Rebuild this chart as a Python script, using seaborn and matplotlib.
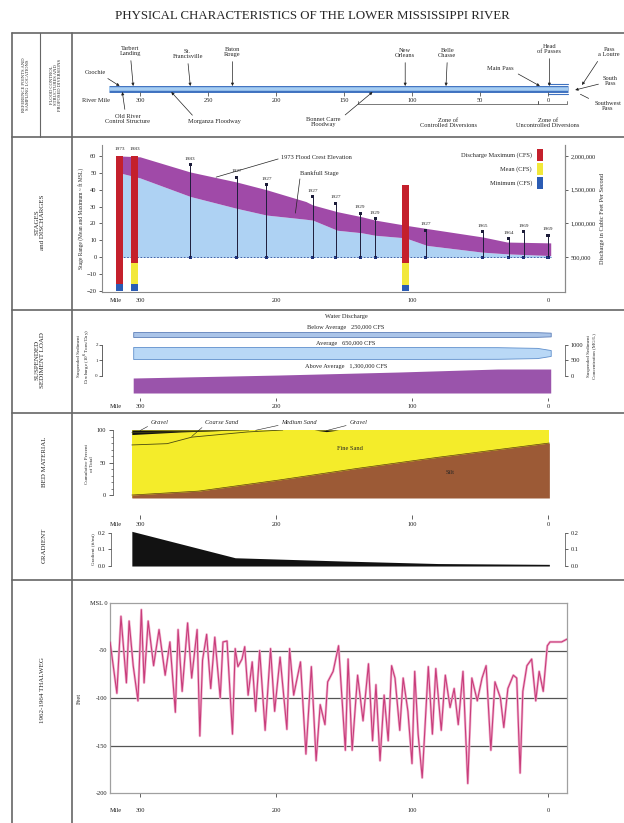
import matplotlib
matplotlib.use("Agg")
import matplotlib.pyplot as plt
from matplotlib.ticker import FuncFormatter
import seaborn as sns

sns.set_theme(style="white")
plt.rcParams["font.family"] = ["Liberation Serif", "DejaVu Serif"]
plt.rcParams["axes.facecolor"] = "none"

# --- DATA ---
# reference points / structures, river miles above Head of Passes
ref_names = ["Coochie", "Tarbert\nLanding", "St.\nFrancisville", "Baton\nRouge",
             "New\nOrleans", "Belle\nChasse", "Head\nof Passes"]
ref_miles = [315, 305, 263, 232, 105, 75, -1]
struct_names = ["Old River\nControl Structure", "Morganza Floodway", "Bonnet Carre\nFloodway"]
struct_miles = [313, 277, 129]
zone_names = ["Zone of\nControlled Diversions", "Zone of\nUncontrolled Diversions"]
zone_start = [140, 7]
zone_end = [7, -14]
river_miles = [323, -15]
mile_ticks = [300, 250, 200, 150, 100, 50, 0]

# stages (ft MSL)
crest_miles = [315, 300, 263, 229, 207, 178, 173, 155, 137, 127, 105, 89, 48, 30, -2]
crest_stage = [60, 59.5, 50.5, 44.6, 40, 33, 31, 27, 24, 22, 19, 17, 12, 9, 8.5]
bankfull_stage = [50, 47, 36, 29, 25, 22.5, 22, 16, 14.5, 13, 11.5, 7, 3, 2, 1]
gauge_miles = [263, 229, 207, 173, 156, 138, 127, 90, 48, 29, 18, 0]
gauge_max = [55, 47.5, 43, 36, 32, 26, 23, 16, 15, 11, 15, 13]
gauge_year = ["1983", "1927", "1927", "1927", "1927", "1929", "1929", "1927",
              "1965", "1964", "1969", "1969"]

# discharges (cfs)
q_miles = [315, 304, 105]
q_year = ["1973", "1983", ""]
q_max = [2000000, 2000000, 1570000]
q_mean = [100000, 415000, 415000]
q_min = [100000, 100000, 88000]

# suspended sediment concentration bands (mg/L)
sed_miles = [305, 198, 110, 37, 8, -2]
sed_below = [160, 160, 160, 160, 150, 120]
sed_avg = [390, 390, 385, 375, 330, 190]
sed_above = [484, 580, 677, 774, 774, 774]
flow_class = ["Below Average", "Average", "Above Average"]
flow_cfs = ["250,000", "650,000", "1,300,000"]

# bed material (cumulative percent)
bed_miles = [306, 257, 198, 140, 81, -1]
silt_pct = [0, 6, 23, 41, 58, 80]
coarse_miles = [306, 280, 262, 221, 195]
coarse_pct = [77, 79, 89, 97, 100]
medium_miles = [306, 260, 220]
medium_pct = [96, 98, 100]
gravel_miles = [306, 270, 230]
gravel_pct = [93, 97, 100]
gravel2_miles = [172, 163, 154]
gravel2_pct = [100, 97.5, 100]

# gradient (ft/mi)
grad_miles = [306, 230, 150, 81, -1]
grad_vals = [0.21, 0.05, 0.03, 0.015, 0.01]

# 1962-1964 thalweg (ft)
thal_miles = [322, 317, 314, 310, 308, 305, 301.5, 299, 297, 294, 290, 286, 281.5, 278,
              274, 272, 269, 265, 262, 258, 256, 254, 251, 248, 245, 241, 239,
              236, 232, 230, 228, 225, 223, 220.5, 217.5, 215, 212, 208, 204, 201,
              197, 192, 190, 187, 182, 178, 174, 170.5, 167.5, 164, 162, 158, 154,
              149, 147, 144, 140, 136, 132, 129, 126.5, 123.5, 120.5, 117.5, 115,
              112.5, 109, 106.5, 103, 100, 98, 95.5, 92.5, 88, 85, 82.5, 78.5, 75.5,
              72, 69, 66, 62.5, 59, 56, 52, 48.5, 45.5, 42, 39, 35, 32.5, 29.5, 25.5,
              23, 20.5, 18.5, 15.5, 12, 9, 6.5, 3.5, 0.5, -1.5, -6.5, -10, -14]
thal_depth = [-41, -95, -14, -84, -19, -66, -103, -7, -84, -19, -66, -28, -76, -41,
              -115, -28, -93, -21, -79, -28, -140, -60, -33, -90, -36, -100, -41,
              -40, -138, -48, -67, -59, -46, -97, -62, -114, -50, -134, -48, -114,
              -57, -133, -48, -97, -62, -159, -67, -166, -107, -128, -83, -72, -45,
              -155, -59, -155, -76, -124, -64, -145, -86, -166, -97, -145, -66, -79,
              -134, -79, -114, -169, -72, -138, -184, -67, -138, -69, -134, -76,
              -110, -90, -128, -72, -190, -79, -103, -79, -66, -155, -83, -100, -131,
              -90, -76, -79, -179, -93, -66, -59, -103, -72, -93, -45, -41, -41, -41, -38]

# --- LAYOUT HELPERS ---
W, H = 624, 823
MILE0, PXM = 548.0, 1.36      # pixel of mile 0 and pixels per mile

def box(l, t, r, b):
    return [l / W, 1 - b / H, (r - l) / W, (b - t) / H]

def mlim(l, r):
    return ((MILE0 - l) / PXM, (MILE0 - r) / PXM)

TS = 4.6
GRAY = "#8a8a8a"

fig = plt.figure(figsize=(W / 100, H / 100), dpi=100)

# frame + side captions in pixel coordinates
ov = fig.add_axes([0, 0, 1, 1])
ov.set_xlim(0, W)
ov.set_ylim(H, 0)
ov.axis("off")
ov.set_zorder(10)
for y in [33, 137, 310, 413, 580]:
    ov.plot([12, 624], [y, y], color="#666", lw=1.2)
ov.plot([12, 12], [33, 823], color="#666", lw=1.2)
ov.plot([72, 72], [33, 823], color="#666", lw=1.2)
ov.plot([40, 40], [33, 137], color="#666", lw=0.8)
ov.text(312, 16, "PHYSICAL CHARACTERISTICS OF THE LOWER MISSISSIPPI RIVER",
        ha="center", va="center", fontsize=9.3)
side = dict(rotation=90, ha="center", va="center", linespacing=1.1)
ov.text(26, 85, "REFERENCE POINTS AND\nSAMPLING LOCATIONS", fontsize=3.3, **side)
ov.text(56, 85, "FLOOD CONTROL\nSTRUCTURES AND\nPROPOSED DIVERSIONS", fontsize=3.3, **side)
ov.text(40, 222, "STAGES\nand DISCHARGES", fontsize=5, **side)
ov.text(40, 360, "SUSPENDED\nSEDIMENT LOAD", fontsize=5, **side)
ov.text(44, 462, "BED MATERIAL", fontsize=5, **side)
ov.text(44, 545, "GRADIENT", fontsize=5, **side)
ov.text(42, 690, "1962-1964 THALWEG", fontsize=5, **side)

# --- ROW 1: river schematic ---
a1 = fig.add_axes(box(73, 34, 624, 136))
a1.set_xlim(*mlim(73, 624))
a1.set_ylim(136, 34)
a1.axis("off")
a1.plot(river_miles, [89, 89], color="#3f72c0", lw=5, solid_capstyle="butt")
a1.plot(river_miles, [89, 89], color="#a6cdf2", lw=2.6, solid_capstyle="butt")
a1.plot([0, river_miles[1]], [84, 84], color="#3f72c0", lw=0.8)
a1.plot([0, river_miles[1]], [94, 94], color="#3f72c0", lw=0.8)
a1.vlines(mile_ticks, 92, 96, color="#555", lw=0.6)
a1.text(332, 100, "River Mile", fontsize=TS, ha="center", va="center")
for m in mile_ticks:
    a1.text(m, 100, str(m), fontsize=TS, ha="center", va="center")

arw = dict(arrowstyle="-|>", lw=0.5, color="#222", mutation_scale=4, shrinkA=1, shrinkB=0)
ref_text = [(333, 72), (307, 51), (265, 54), (232, 52), (105, 53), (74, 53), (-1, 49)]
for name, m, (tx, ty) in zip(ref_names, ref_miles, ref_text):
    rp = (0.8, 0) if name == "Coochie" else (0.5, 0)
    a1.annotate(name, xy=(m, 86), xytext=(tx, ty), fontsize=TS, ha="center", va="center",
                linespacing=1.0, arrowprops=dict(arw, relpos=rp))
a1.annotate("Main Pass", xy=(6, 86), xytext=(35, 69), fontsize=TS, ha="center", va="center",
            arrowprops=dict(arw, relpos=(1, 0)))
a1.annotate("Pass\na Loutre", xy=(-25, 85), xytext=(-45, 52), fontsize=TS, ha="center",
            va="center", linespacing=1.0, arrowprops=dict(arw, relpos=(0.1, 0)))
a1.annotate("South\nPass", xy=(-20, 90), xytext=(-46, 81), fontsize=TS, ha="center",
            va="center", linespacing=1.0, arrowprops=dict(arw, relpos=(0, 0.3)))
a1.annotate("Southwest\nPass", xy=(-22, 93), xytext=(-44, 106), fontsize=TS, ha="center",
            va="center", linespacing=1.0,
            arrowprops=dict(arrowstyle="-", lw=0.5, color="#222", relpos=(0.05, 0.9)))
struct_text = [(309, 119), (245, 122), (165, 122)]
struct_rel = [(0.45, 1), (0.15, 1), (0.95, 0.7)]
for name, m, (tx, ty), rp in zip(struct_names, struct_miles, struct_text, struct_rel):
    a1.annotate(name, xy=(m, 92), xytext=(tx, ty), fontsize=TS, ha="center", va="center",
                linespacing=1.0, arrowprops=dict(arw, relpos=rp))
for name, s, e in zip(zone_names, zone_start, zone_end):
    a1.plot([s, s, e, e], [101, 104, 104, 101], color="#444", lw=0.5)
    a1.text((s + e) / 2 if e > 0 else 0, 123, name, fontsize=TS, ha="center", va="center",
            linespacing=1.0)

# --- ROW 2: stages and discharges ---
a2 = fig.add_axes(box(102, 145, 565, 292))
a2.set_xlim(*mlim(102, 565))
a2.set_ylim(-20.6, 66.5)
a2.fill_between(crest_miles, 0, bankfull_stage, color="#aed2f3", lw=0)
a2.fill_between(crest_miles, bankfull_stage, crest_stage, color="#a04aa8", lw=0)
a2.hlines(0, crest_miles[0], crest_miles[-1], color="#2a4d9a", lw=0.6, linestyles=(0, (2, 2)))
a2.vlines(gauge_miles, 0, gauge_max, color="#1d1d3a", lw=0.7)
sns.scatterplot(x=gauge_miles, y=gauge_max, ax=a2, marker="s", s=5, color="#1d1d3a",
                edgecolor="none")
sns.scatterplot(x=gauge_miles, y=[0] * len(gauge_miles), ax=a2, marker="s", s=5,
                color="#1d2f7a", edgecolor="none")
for m, g, yr in zip(gauge_miles, gauge_max, gauge_year):
    a2.text(m, g + 3.5, yr, fontsize=3.8, ha="center", va="center")
a2.annotate("1973 Flood Crest Elevation", xy=(246, 47), xytext=(196, 58.8), fontsize=TS,
            ha="left", va="center",
            arrowprops=dict(arrowstyle="-", lw=0.5, color="#222", relpos=(0, 0.5), shrinkA=0))
a2.annotate("Bankfull Stage", xy=(186, 24.5), xytext=(182, 50), fontsize=TS,
            ha="left", va="center",
            arrowprops=dict(arrowstyle="-", lw=0.5, color="#222", relpos=(0, 0.2), shrinkA=0))
a2.spines["top"].set_visible(False)
for sp in a2.spines.values():
    sp.set_color(GRAY)
    sp.set_linewidth(0.8)
a2.set_yticks(range(-20, 61, 10))
a2.set_xticks([318, 300, 200, 100, 0])
a2.set_xticklabels(["Mile", "300", "200", "100", "0"])
a2.tick_params(labelsize=TS, length=2, width=0.5, pad=2, colors="#222")
a2.xaxis.get_major_ticks()[0].tick1line.set_visible(False)
a2.set_ylabel("Stage Range (Mean and Maximum ~ ft MSL)", fontsize=4, labelpad=2)

a2q = a2.twinx()
lo, hi = a2.get_ylim()
a2q.set_ylim((lo + 20) * 25000, (hi + 20) * 25000)
a2q.bar(q_miles, q_max, width=5, color="#c4202c", lw=0)
a2q.bar(q_miles, q_mean, width=5, color="#f2e83a", lw=0)
a2q.bar(q_miles, q_min, width=5, color="#2b5cb4", lw=0)
for m, qm, yr in zip(q_miles, q_max, q_year):
    a2q.text(m, qm + 100000, yr, fontsize=3.8, ha="center", va="center")
a2q.set_yticks([500000, 1000000, 1500000, 2000000])
a2q.yaxis.set_major_formatter(FuncFormatter(lambda v, p: f"{int(v):,}"))
a2q.tick_params(labelsize=TS, length=2, width=0.5, pad=2, colors="#222")
for sp in ["top", "left", "bottom"]:
    a2q.spines[sp].set_visible(False)
a2q.spines["right"].set_color(GRAY)
a2q.spines["right"].set_linewidth(0.8)
a2q.set_ylabel("Discharge in Cubic Feet Per Second", fontsize=4.5, labelpad=3)
leg_labels = ["Discharge Maximum (CFS)", "Mean (CFS)", "Minimum (CFS)"]
leg_colors = ["#c4202c", "#f2e83a", "#2b5cb4"]
for i, (lab, col) in enumerate(zip(leg_labels, leg_colors)):
    ov.text(532, 155 + 14 * i, lab, fontsize=TS, ha="right", va="center")
    ov.add_patch(plt.Rectangle((537, 149 + 14 * i), 6, 12, color=col, lw=0))

# --- ROW 3: suspended sediment load ---
a3 = fig.add_axes(box(102, 314, 565, 398))
a3.set_xlim(*mlim(102, 565))
a3.set_ylim(0, 2710)
mid_below, mid_avg, base_above = 2048, 1452, 161
a3.fill_between(sed_miles, [mid_below - v / 2 for v in sed_below],
                [mid_below + v / 2 for v in sed_below], color="#aac4e8", ec="#5d7fb8", lw=0.6)
a3.fill_between(sed_miles, [mid_avg - v / 2 for v in sed_avg],
                [mid_avg + v / 2 for v in sed_avg], color="#b9d8f6", ec="#5f8fcc", lw=0.6)
a3.fill_between(sed_miles, base_above, [base_above + v for v in sed_above],
                color="#9a54ab", lw=0)
for sp in ["top", "right", "left", "bottom"]:
    a3.spines[sp].set_visible(False)
a3.set_yticks([])
a3.set_xticks([318, 300, 200, 100, 0])
a3.set_xticklabels(["Mile", "300", "200", "100", "0"])
a3.tick_params(axis="x", labelsize=TS, length=2, width=0.5, pad=2, colors="#222", bottom=True)
a3.xaxis.get_major_ticks()[0].tick1line.set_visible(False)
a3r = a3.twinx()
a3r.set_ylim(-710, 2000)
for sp in ["top", "left", "bottom"]:
    a3r.spines[sp].set_visible(False)
a3r.spines["right"].set_bounds(0, 1000)
a3r.spines["right"].set_color("#444")
a3r.spines["right"].set_linewidth(0.5)
a3r.set_yticks([0, 500, 1000])
a3r.tick_params(labelsize=TS, length=2, width=0.5, pad=2, colors="#222", right=True)
a3r.set_ylabel("Suspended Sediment\nConcentration (MG/L)", fontsize=3.6, labelpad=3)
a3s = a3r.secondary_yaxis("left", functions=(lambda c: c / 500, lambda d: d * 500))
a3s.spines["left"].set_bounds(0, 2)
a3s.spines["left"].set_linewidth(0.5)
a3s.set_yticks([0, 1, 2])
a3s.tick_params(labelsize=3.6, length=2, width=0.5, pad=1)
a3s.set_ylabel("Suspended Sediment\nDischarge (10$^6$ Tons/Day)", fontsize=3.6, labelpad=2)
ov.text(346, 316, "Water Discharge", fontsize=TS, ha="center", va="center")
for lab, cfs, y in zip(flow_class, flow_cfs, [327, 343, 366]):
    ov.text(346, y, f"{lab}   {cfs} CFS", fontsize=TS, ha="center", va="center")

# --- ROW 4a: bed material ---
a4 = fig.add_axes(box(113, 430, 565, 498))
a4.set_xlim(*mlim(113, 565))
a4.set_ylim(-4.6, 100)
ybot = a4.get_ylim()[0]
a4.fill_between(bed_miles, ybot, 100, color="#f4ec2a", lw=0)
a4.fill_between(bed_miles, ybot, silt_pct, color="#9c5a36", lw=0)
a4.plot(bed_miles, silt_pct, color="#5a3a10", lw=0.5)
a4.fill_between(gravel_miles, gravel_pct, 100, color="#111", lw=0)
a4.fill_between(gravel2_miles, gravel2_pct, 100, color="#111", lw=0)
a4.plot(coarse_miles, coarse_pct, color="#4a4a10", lw=0.6)
a4.plot(medium_miles, medium_pct, color="#4a4a10", lw=0.5)
lead = dict(arrowstyle="-", lw=0.4, color="#222", relpos=(0, 0), shrinkA=0, shrinkB=0)
for lab, (xm, ym), tx in [("Gravel", (300, 99), 292), ("Coarse Sand", (262, 90), 252),
                          ("Medium Sand", (215, 99.5), 196), ("Gravel", (163, 99), 146)]:
    a4.annotate(lab, xy=(xm, ym), xytext=(tx, 112), fontsize=TS, fontstyle="italic",
                ha="left", va="center", arrowprops=lead, annotation_clip=False)
a4.text(146, 71, "Fine Sand", fontsize=TS, ha="center", va="center")
a4.text(72, 35, "Silt", fontsize=TS, ha="center", va="center")
for sp in ["top", "right", "bottom"]:
    a4.spines[sp].set_visible(False)
a4.spines["left"].set_bounds(0, 100)
a4.spines["left"].set_color("#444")
a4.spines["left"].set_linewidth(0.5)
a4.spines["bottom"].set_position(("outward", 12))
a4.set_yticks([0, 50, 100])
a4.set_yticks(range(0, 101, 10), minor=True)
a4.set_xticks([318, 300, 200, 100, 0])
a4.set_xticklabels(["Mile", "300", "200", "100", "0"])
a4.tick_params(labelsize=TS, length=3, width=0.5, pad=2, colors="#222", left=True, bottom=True)
a4.tick_params(which="minor", length=1.5, width=0.4, left=True)
a4.xaxis.get_major_ticks()[0].tick1line.set_visible(False)
a4.set_ylabel("Cumulative Percent\nof Total", fontsize=3.6, labelpad=2)

# --- ROW 4b: gradient ---
a5 = fig.add_axes(box(111, 530, 565, 568))
a5.set_xlim(*mlim(111, 565))
a5.set_ylim(-0.012, 0.218)
a5.fill_between(grad_miles, 0, grad_vals, color="#121212", lw=0)
for sp in ["top", "bottom"]:
    a5.spines[sp].set_visible(False)
for sp in ["left", "right"]:
    a5.spines[sp].set_bounds(0, 0.2)
    a5.spines[sp].set_color("#444")
    a5.spines[sp].set_linewidth(0.5)
a5.set_xticks([])
a5.set_yticks([0, 0.1, 0.2])
a5.set_yticklabels(["0.0", "0.1", "0.2"])
a5.tick_params(labelsize=TS, length=2, width=0.5, pad=2, colors="#222", left=True,
               right=True, labelright=True)
a5.set_ylabel("Gradient (ft/mi)", fontsize=3.6, labelpad=2)

# --- ROW 5: thalweg ---
a6 = fig.add_axes(box(110, 603, 567, 793))
a6.set_xlim(*mlim(110, 567))
a6.set_ylim(-200, 0)
for d in [-50, -100, -150]:
    a6.axhline(d, color="#555", lw=0.9, zorder=1)
sns.lineplot(x=thal_miles, y=thal_depth, sort=False, ax=a6, color="#f2b3cf", lw=1.8, zorder=2)
sns.lineplot(x=thal_miles, y=thal_depth, sort=False, ax=a6, color="#c83d7b", lw=0.8, zorder=3)
for sp in a6.spines.values():
    sp.set_color("#a0a0a0")
    sp.set_linewidth(0.9)
a6.set_yticks([-200, -150, -100, -50, 0])
a6.set_yticklabels(["-200", "-150", "-100", "-50", "MSL 0"])
a6.set_xticks([318, 300, 200, 100, 0])
a6.set_xticklabels(["Mile", "300", "200", "100", "0"])
a6.tick_params(labelsize=TS, length=3, width=0.5, pad=8, colors="#222", bottom=True)
a6.tick_params(axis="y", pad=2, length=0, left=True)
a6.xaxis.get_major_ticks()[0].tick1line.set_visible(False)
a6.set_ylabel("Feet", fontsize=TS, labelpad=6)
a6.set_xlabel("")

fig.savefig("out.png", dpi=100)
